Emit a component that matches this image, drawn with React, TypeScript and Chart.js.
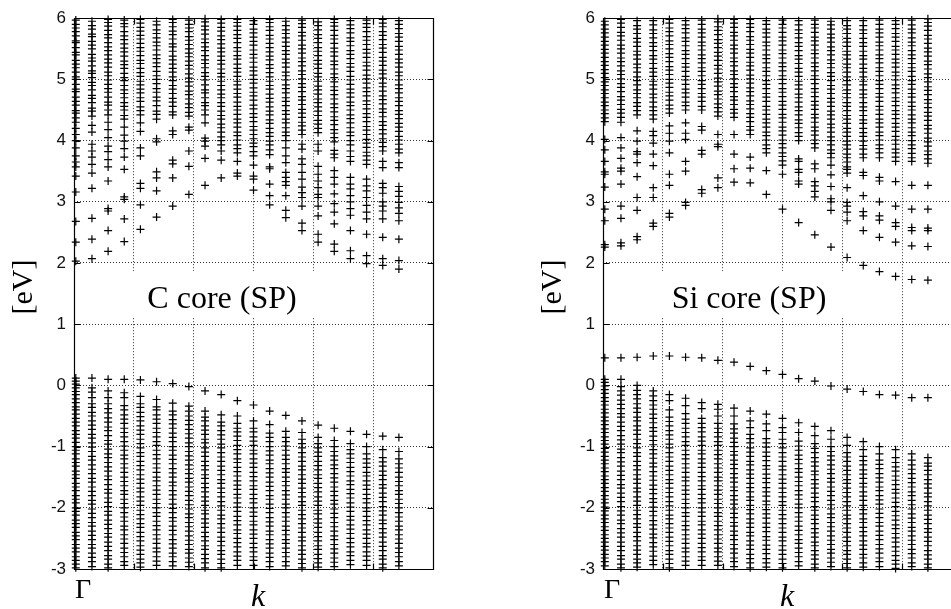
import React, { useEffect, useRef } from "react";
import { Chart, registerables } from "chart.js";
Chart.register(...registerables);

// k positions of the 21 columns (axis units, 0..6)
const kPoints = [0.03, 0.3, 0.57, 0.84, 1.11, 1.38, 1.65, 1.92, 2.19, 2.46, 2.73, 3.0, 3.27, 3.54, 3.81, 4.08, 4.35, 4.62, 4.89, 5.16, 5.43];
const xTicks = [0, 1, 2, 3, 4, 5, 6];
const yTicks = [-3, -2, -1, 0, 1, 2, 3, 4, 5, 6];

// C core (SP): conduction-side energies per k column [eV]
const cCoreUpper: number[][] = [
  [2.03, 2.34, 2.68, 3.16, 3.42, 3.57, 3.65, 3.75, 3.88, 4.0, 4.1, 4.2, 4.3, 4.37, 4.45, 4.49, 4.58, 4.64, 4.71, 4.8, 4.84, 4.92, 5.0, 5.04, 5.12, 5.19, 5.25, 5.31, 5.4, 5.44, 5.52, 5.6, 5.63, 5.71, 5.78, 5.84, 5.9, 5.97],
  [2.07, 2.39, 2.73, 3.22, 3.47, 3.61, 3.73, 3.83, 3.94, 4.14, 4.25, 4.4, 4.48, 4.53, 4.62, 4.69, 4.74, 4.83, 4.9, 4.95, 5.03, 5.1, 5.14, 5.22, 5.3, 5.35, 5.41, 5.5, 5.56, 5.62, 5.7, 5.74, 5.82, 5.88, 5.95],
  [2.19, 2.53, 2.85, 2.89, 3.34, 3.57, 3.69, 3.82, 3.91, 4.05, 4.18, 4.3, 4.42, 4.5, 4.58, 4.63, 4.71, 4.79, 4.85, 4.92, 4.99, 5.06, 5.12, 5.2, 5.27, 5.33, 5.4, 5.47, 5.53, 5.6, 5.68, 5.73, 5.8, 5.87, 5.93, 5.98],
  [2.35, 2.72, 3.04, 3.08, 3.53, 3.73, 3.87, 3.99, 4.09, 4.22, 4.35, 4.41, 4.5, 4.56, 4.62, 4.7, 4.77, 4.83, 4.9, 4.98, 5.03, 5.1, 5.18, 5.24, 5.3, 5.38, 5.45, 5.51, 5.58, 5.65, 5.71, 5.78, 5.86, 5.91, 5.97],
  [2.55, 2.95, 3.22, 3.3, 3.75, 3.88, 4.15, 4.29, 4.42, 4.49, 4.55, 4.64, 4.7, 4.78, 4.84, 4.91, 4.97, 5.05, 5.11, 5.18, 5.26, 5.31, 5.39, 5.46, 5.52, 5.59, 5.66, 5.72, 5.79, 5.85, 5.92, 5.98],
  [2.75, 3.18, 3.39, 3.49, 3.98, 4.03, 4.35, 4.43, 4.48, 4.57, 4.65, 4.71, 4.79, 4.85, 4.93, 5.0, 5.06, 5.13, 5.21, 5.27, 5.34, 5.4, 5.48, 5.55, 5.61, 5.68, 5.75, 5.81, 5.89, 5.95],
  [2.93, 3.39, 3.62, 3.68, 4.1, 4.16, 4.42, 4.47, 4.56, 4.63, 4.69, 4.77, 4.84, 4.9, 4.98, 5.04, 5.12, 5.18, 5.25, 5.32, 5.38, 5.46, 5.53, 5.58, 5.66, 5.73, 5.79, 5.86, 5.93, 5.98],
  [3.12, 3.58, 3.83, 4.17, 4.22, 4.4, 4.46, 4.54, 4.6, 4.68, 4.75, 4.81, 4.89, 4.96, 5.02, 5.09, 5.17, 5.23, 5.3, 5.37, 5.43, 5.5, 5.57, 5.64, 5.7, 5.78, 5.84, 5.9, 5.97],
  [3.27, 3.71, 3.91, 3.99, 4.04, 4.29, 4.42, 4.5, 4.57, 4.62, 4.7, 4.78, 4.83, 4.91, 4.99, 5.05, 5.11, 5.19, 5.26, 5.32, 5.39, 5.47, 5.53, 5.6, 5.66, 5.74, 5.81, 5.87, 5.94, 5.99],
  [3.39, 3.68, 3.83, 3.93, 4.0, 4.06, 4.14, 4.21, 4.27, 4.35, 4.41, 4.48, 4.56, 4.62, 4.7, 4.76, 4.83, 4.9, 4.97, 5.04, 5.1, 5.17, 5.25, 5.31, 5.38, 5.45, 5.51, 5.58, 5.65, 5.71, 5.79, 5.85, 5.92, 5.98],
  [3.42, 3.47, 3.66, 3.8, 3.87, 3.93, 4.01, 4.08, 4.14, 4.22, 4.29, 4.35, 4.43, 4.5, 4.56, 4.63, 4.71, 4.77, 4.84, 4.91, 4.97, 5.05, 5.12, 5.18, 5.25, 5.33, 5.39, 5.46, 5.52, 5.6, 5.67, 5.73, 5.8, 5.87, 5.93, 5.98],
  [3.19, 3.37, 3.42, 3.6, 3.75, 3.82, 3.9, 3.96, 4.03, 4.1, 4.17, 4.23, 4.31, 4.38, 4.44, 4.52, 4.58, 4.66, 4.73, 4.79, 4.86, 4.94, 5.0, 5.07, 5.14, 5.2, 5.28, 5.35, 5.41, 5.48, 5.56, 5.62, 5.69, 5.76, 5.82, 5.9, 5.96],
  [2.95, 3.1, 3.29, 3.54, 3.57, 3.77, 3.85, 3.93, 3.99, 4.07, 4.13, 4.2, 4.28, 4.34, 4.42, 4.48, 4.55, 4.63, 4.69, 4.76, 4.84, 4.9, 4.97, 5.04, 5.11, 5.18, 5.24, 5.32, 5.38, 5.45, 5.52, 5.59, 5.66, 5.72, 5.8, 5.86, 5.93, 5.98],
  [2.74, 2.86, 3.1, 3.27, 3.33, 3.4, 3.48, 3.64, 3.75, 3.88, 4.0, 4.08, 4.14, 4.21, 4.29, 4.35, 4.43, 4.49, 4.57, 4.64, 4.7, 4.78, 4.85, 4.91, 4.99, 5.06, 5.12, 5.2, 5.27, 5.33, 5.41, 5.47, 5.54, 5.61, 5.68, 5.75, 5.81, 5.88, 5.95],
  [2.53, 2.65, 2.93, 3.07, 3.15, 3.24, 3.37, 3.48, 3.61, 3.7, 3.86, 3.94, 4.1, 4.17, 4.24, 4.3, 4.38, 4.45, 4.51, 4.59, 4.66, 4.72, 4.8, 4.87, 4.93, 5.01, 5.08, 5.14, 5.22, 5.29, 5.35, 5.43, 5.5, 5.56, 5.64, 5.71, 5.77, 5.85, 5.91, 5.97],
  [2.34, 2.47, 2.77, 2.93, 3.07, 3.12, 3.23, 3.34, 3.45, 3.58, 3.83, 3.94, 4.13, 4.2, 4.27, 4.33, 4.41, 4.48, 4.55, 4.62, 4.68, 4.76, 4.83, 4.89, 4.97, 5.04, 5.1, 5.18, 5.25, 5.31, 5.39, 5.46, 5.52, 5.6, 5.67, 5.73, 5.81, 5.88, 5.94],
  [2.19, 2.31, 2.64, 2.83, 2.97, 3.13, 3.29, 3.4, 3.51, 3.72, 3.78, 3.84, 3.98, 4.05, 4.12, 4.18, 4.26, 4.33, 4.39, 4.47, 4.54, 4.6, 4.68, 4.75, 4.82, 4.88, 4.96, 5.03, 5.09, 5.17, 5.24, 5.3, 5.38, 5.45, 5.51, 5.59, 5.66, 5.72, 5.8, 5.87, 5.93, 5.98],
  [2.07, 2.2, 2.53, 2.78, 2.89, 3.0, 3.1, 3.21, 3.29, 3.4, 3.66, 3.74, 3.83, 3.93, 4.0, 4.08, 4.14, 4.21, 4.29, 4.36, 4.42, 4.5, 4.57, 4.63, 4.71, 4.78, 4.84, 4.92, 4.99, 5.05, 5.13, 5.2, 5.26, 5.34, 5.41, 5.47, 5.55, 5.62, 5.68, 5.76, 5.83, 5.89, 5.96],
  [1.99, 2.12, 2.47, 2.72, 2.83, 2.94, 3.07, 3.18, 3.26, 3.37, 3.61, 3.68, 3.75, 3.81, 3.89, 3.96, 4.02, 4.1, 4.17, 4.23, 4.31, 4.38, 4.44, 4.52, 4.59, 4.65, 4.73, 4.8, 4.86, 4.94, 5.01, 5.07, 5.15, 5.22, 5.28, 5.36, 5.43, 5.49, 5.57, 5.64, 5.7, 5.78, 5.85, 5.91, 5.97],
  [1.96, 2.07, 2.42, 2.72, 2.85, 2.93, 3.0, 3.14, 3.23, 3.3, 3.56, 3.66, 3.83, 3.9, 3.97, 4.03, 4.11, 4.18, 4.25, 4.31, 4.39, 4.46, 4.52, 4.6, 4.67, 4.73, 4.81, 4.88, 4.94, 5.02, 5.09, 5.15, 5.23, 5.3, 5.36, 5.44, 5.51, 5.57, 5.65, 5.72, 5.78, 5.86, 5.92, 5.98],
  [1.9, 2.04, 2.39, 2.69, 2.81, 2.9, 2.99, 3.09, 3.17, 3.25, 3.56, 3.64, 3.8, 3.86, 3.94, 4.01, 4.07, 4.15, 4.22, 4.28, 4.36, 4.43, 4.49, 4.57, 4.64, 4.7, 4.78, 4.85, 4.91, 4.99, 5.06, 5.12, 5.2, 5.27, 5.33, 5.41, 5.48, 5.54, 5.62, 5.69, 5.75, 5.83, 5.9, 5.96],
];

// C core (SP): valence-side energies per k column [eV]
const cCoreLower: number[][] = [
  [0.12, 0.07, 0.02, -0.04, -0.1, -0.15, -0.22, -0.28, -0.35, -0.4, -0.47, -0.54, -0.6, -0.66, -0.74, -0.8, -0.86, -0.93, -1.0, -1.06, -1.12, -1.2, -1.26, -1.32, -1.4, -1.46, -1.52, -1.6, -1.66, -1.72, -1.8, -1.86, -1.92, -2.0, -2.06, -2.12, -2.2, -2.26, -2.32, -2.4, -2.46, -2.52, -2.6, -2.66, -2.72, -2.8, -2.86, -2.92, -2.98],
  [0.12, -0.04, -0.11, -0.2, -0.3, -0.36, -0.44, -0.5, -0.58, -0.65, -0.72, -0.8, -0.86, -0.94, -1.01, -1.08, -1.16, -1.22, -1.3, -1.37, -1.44, -1.52, -1.58, -1.66, -1.73, -1.8, -1.88, -1.94, -2.02, -2.09, -2.16, -2.24, -2.3, -2.38, -2.45, -2.52, -2.6, -2.66, -2.74, -2.81, -2.88, -2.96],
  [0.1, -0.09, -0.2, -0.3, -0.38, -0.45, -0.53, -0.6, -0.68, -0.74, -0.82, -0.9, -0.96, -1.04, -1.12, -1.18, -1.26, -1.33, -1.4, -1.48, -1.54, -1.62, -1.7, -1.76, -1.84, -1.91, -1.98, -2.06, -2.12, -2.2, -2.27, -2.34, -2.42, -2.48, -2.56, -2.63, -2.7, -2.78, -2.84, -2.92, -2.98],
  [0.1, -0.12, -0.2, -0.33, -0.4, -0.48, -0.55, -0.62, -0.7, -0.77, -0.84, -0.92, -0.99, -1.06, -1.14, -1.2, -1.28, -1.35, -1.42, -1.5, -1.57, -1.64, -1.72, -1.78, -1.86, -1.93, -2.0, -2.08, -2.15, -2.22, -2.3, -2.36, -2.44, -2.51, -2.58, -2.66, -2.73, -2.8, -2.88, -2.94],
  [0.09, -0.18, -0.3, -0.36, -0.44, -0.51, -0.58, -0.66, -0.73, -0.8, -0.88, -0.95, -1.02, -1.1, -1.16, -1.24, -1.31, -1.38, -1.46, -1.53, -1.6, -1.68, -1.74, -1.82, -1.89, -1.96, -2.04, -2.11, -2.18, -2.26, -2.32, -2.4, -2.47, -2.54, -2.62, -2.69, -2.76, -2.84, -2.9, -2.97],
  [0.06, -0.23, -0.35, -0.4, -0.48, -0.55, -0.62, -0.7, -0.77, -0.84, -0.92, -0.98, -1.06, -1.13, -1.2, -1.28, -1.35, -1.42, -1.5, -1.56, -1.64, -1.71, -1.78, -1.86, -1.93, -2.0, -2.08, -2.14, -2.22, -2.29, -2.36, -2.44, -2.51, -2.58, -2.66, -2.72, -2.8, -2.87, -2.94],
  [0.03, -0.29, -0.42, -0.48, -0.56, -0.63, -0.7, -0.78, -0.85, -0.92, -1.0, -1.06, -1.14, -1.21, -1.28, -1.36, -1.43, -1.5, -1.58, -1.64, -1.72, -1.79, -1.86, -1.94, -2.01, -2.08, -2.16, -2.22, -2.3, -2.37, -2.44, -2.52, -2.59, -2.66, -2.74, -2.8, -2.88, -2.95],
  [-0.02, -0.34, -0.42, -0.5, -0.57, -0.64, -0.72, -0.79, -0.86, -0.94, -1.0, -1.08, -1.15, -1.22, -1.3, -1.37, -1.44, -1.52, -1.58, -1.66, -1.73, -1.8, -1.88, -1.95, -2.02, -2.1, -2.16, -2.24, -2.31, -2.38, -2.46, -2.53, -2.6, -2.68, -2.74, -2.82, -2.89, -2.96],
  [-0.09, -0.42, -0.52, -0.58, -0.66, -0.73, -0.8, -0.88, -0.94, -1.02, -1.09, -1.16, -1.24, -1.31, -1.38, -1.46, -1.52, -1.6, -1.67, -1.74, -1.82, -1.89, -1.96, -2.04, -2.1, -2.18, -2.25, -2.32, -2.4, -2.47, -2.54, -2.62, -2.68, -2.76, -2.83, -2.9, -2.98],
  [-0.15, -0.48, -0.6, -0.66, -0.74, -0.81, -0.88, -0.96, -1.02, -1.1, -1.17, -1.24, -1.32, -1.39, -1.46, -1.54, -1.6, -1.68, -1.75, -1.82, -1.9, -1.97, -2.04, -2.12, -2.18, -2.26, -2.33, -2.4, -2.48, -2.55, -2.62, -2.7, -2.76, -2.84, -2.91, -2.98],
  [-0.25, -0.5, -0.62, -0.7, -0.76, -0.83, -0.9, -0.98, -1.05, -1.12, -1.2, -1.26, -1.34, -1.41, -1.48, -1.56, -1.63, -1.7, -1.78, -1.84, -1.92, -1.99, -2.06, -2.14, -2.21, -2.28, -2.36, -2.42, -2.5, -2.57, -2.64, -2.72, -2.79, -2.86, -2.94],
  [-0.32, -0.58, -0.7, -0.76, -0.84, -0.91, -0.98, -1.06, -1.12, -1.2, -1.27, -1.34, -1.42, -1.49, -1.56, -1.64, -1.7, -1.78, -1.85, -1.92, -2.0, -2.07, -2.14, -2.22, -2.28, -2.36, -2.43, -2.5, -2.58, -2.65, -2.72, -2.8, -2.86, -2.94],
  [-0.42, -0.64, -0.78, -0.85, -0.92, -1.0, -1.07, -1.14, -1.22, -1.28, -1.36, -1.43, -1.5, -1.58, -1.65, -1.72, -1.8, -1.86, -1.94, -2.01, -2.08, -2.16, -2.23, -2.3, -2.38, -2.44, -2.52, -2.59, -2.66, -2.74, -2.81, -2.88, -2.96],
  [-0.49, -0.75, -0.85, -0.92, -0.99, -1.06, -1.14, -1.21, -1.28, -1.36, -1.42, -1.5, -1.57, -1.64, -1.72, -1.79, -1.86, -1.94, -2.0, -2.08, -2.15, -2.22, -2.3, -2.37, -2.44, -2.52, -2.58, -2.66, -2.73, -2.8, -2.88, -2.95],
  [-0.58, -0.77, -0.88, -0.95, -1.02, -1.1, -1.17, -1.24, -1.32, -1.38, -1.46, -1.53, -1.6, -1.68, -1.75, -1.82, -1.9, -1.96, -2.04, -2.11, -2.18, -2.26, -2.33, -2.4, -2.48, -2.54, -2.62, -2.69, -2.76, -2.84, -2.91, -2.98],
  [-0.65, -0.85, -0.95, -1.02, -1.09, -1.16, -1.24, -1.31, -1.38, -1.46, -1.52, -1.6, -1.67, -1.74, -1.82, -1.89, -1.96, -2.04, -2.1, -2.18, -2.25, -2.32, -2.4, -2.47, -2.54, -2.62, -2.68, -2.76, -2.83, -2.9, -2.97],
  [-0.7, -0.9, -1.0, -1.08, -1.15, -1.22, -1.3, -1.36, -1.44, -1.51, -1.58, -1.66, -1.73, -1.8, -1.88, -1.94, -2.02, -2.09, -2.16, -2.24, -2.31, -2.38, -2.46, -2.52, -2.6, -2.67, -2.74, -2.82, -2.89, -2.96],
  [-0.75, -0.95, -1.05, -1.12, -1.19, -1.26, -1.34, -1.41, -1.48, -1.56, -1.62, -1.7, -1.77, -1.84, -1.92, -1.99, -2.06, -2.14, -2.2, -2.28, -2.35, -2.42, -2.5, -2.57, -2.64, -2.72, -2.78, -2.86, -2.93],
  [-0.8, -1.0, -1.12, -1.2, -1.27, -1.34, -1.42, -1.48, -1.56, -1.63, -1.7, -1.78, -1.85, -1.92, -2.0, -2.06, -2.14, -2.21, -2.28, -2.36, -2.43, -2.5, -2.58, -2.64, -2.72, -2.79, -2.86, -2.94],
  [-0.83, -1.05, -1.18, -1.25, -1.32, -1.4, -1.47, -1.54, -1.62, -1.68, -1.76, -1.83, -1.9, -1.98, -2.05, -2.12, -2.2, -2.26, -2.34, -2.41, -2.48, -2.56, -2.63, -2.7, -2.78, -2.84, -2.92, -2.98],
  [-0.85, -1.08, -1.2, -1.28, -1.35, -1.42, -1.5, -1.57, -1.64, -1.72, -1.78, -1.86, -1.93, -2.0, -2.08, -2.15, -2.22, -2.3, -2.36, -2.44, -2.51, -2.58, -2.66, -2.73, -2.8, -2.88, -2.95],
];

// Si core (SP): conduction-side energies per k column [eV]
const siCoreUpper: number[][] = [
  [2.26, 2.3, 2.69, 2.88, 3.24, 3.45, 3.49, 3.66, 3.85, 4.02, 4.31, 4.37, 4.44, 4.5, 4.57, 4.63, 4.7, 4.77, 4.83, 4.9, 4.96, 5.03, 5.1, 5.16, 5.23, 5.29, 5.36, 5.43, 5.49, 5.56, 5.62, 5.69, 5.76, 5.82, 5.89, 5.95],
  [2.28, 2.33, 2.73, 2.93, 3.29, 3.5, 3.55, 3.71, 3.88, 4.05, 4.3, 4.38, 4.45, 4.51, 4.59, 4.66, 4.72, 4.8, 4.87, 4.93, 5.01, 5.08, 5.14, 5.22, 5.29, 5.35, 5.43, 5.5, 5.56, 5.64, 5.71, 5.77, 5.85, 5.92, 5.98],
  [2.38, 2.43, 2.86, 3.07, 3.41, 3.64, 3.78, 3.82, 3.99, 4.16, 4.42, 4.49, 4.56, 4.62, 4.7, 4.77, 4.83, 4.91, 4.98, 5.04, 5.12, 5.19, 5.25, 5.33, 5.4, 5.46, 5.54, 5.61, 5.67, 5.75, 5.82, 5.88, 5.96],
  [2.6, 2.65, 3.07, 3.23, 3.59, 3.78, 3.96, 4.08, 4.15, 4.35, 4.42, 4.49, 4.55, 4.63, 4.7, 4.76, 4.84, 4.91, 4.97, 5.05, 5.12, 5.18, 5.26, 5.33, 5.39, 5.47, 5.54, 5.6, 5.68, 5.75, 5.81, 5.89, 5.96],
  [2.75, 2.81, 3.27, 3.45, 3.8, 3.99, 4.12, 4.24, 4.45, 4.52, 4.58, 4.66, 4.73, 4.79, 4.87, 4.94, 5.0, 5.08, 5.15, 5.21, 5.29, 5.36, 5.42, 5.5, 5.57, 5.63, 5.71, 5.78, 5.84, 5.92, 5.98],
  [2.94, 2.99, 3.5, 3.66, 4.02, 4.12, 4.29, 4.5, 4.57, 4.63, 4.71, 4.78, 4.84, 4.92, 4.99, 5.05, 5.13, 5.2, 5.26, 5.34, 5.41, 5.47, 5.55, 5.62, 5.68, 5.76, 5.83, 5.89, 5.96],
  [3.14, 3.2, 3.78, 3.84, 4.17, 4.23, 4.5, 4.56, 4.64, 4.71, 4.77, 4.85, 4.92, 4.98, 5.06, 5.13, 5.19, 5.27, 5.34, 5.4, 5.48, 5.55, 5.61, 5.69, 5.76, 5.82, 5.9, 5.97],
  [3.23, 3.39, 3.9, 3.94, 4.1, 4.4, 4.47, 4.54, 4.6, 4.68, 4.75, 4.81, 4.89, 4.96, 5.02, 5.1, 5.17, 5.23, 5.31, 5.38, 5.44, 5.52, 5.59, 5.65, 5.73, 5.8, 5.86, 5.94, 5.99],
  [3.32, 3.54, 3.78, 4.1, 4.38, 4.45, 4.51, 4.59, 4.66, 4.72, 4.8, 4.87, 4.93, 5.01, 5.08, 5.14, 5.22, 5.29, 5.35, 5.43, 5.5, 5.56, 5.64, 5.71, 5.77, 5.85, 5.92, 5.98],
  [3.31, 3.55, 3.73, 4.1, 4.17, 4.23, 4.31, 4.38, 4.44, 4.52, 4.59, 4.65, 4.73, 4.8, 4.86, 4.94, 5.01, 5.07, 5.15, 5.22, 5.28, 5.36, 5.43, 5.49, 5.57, 5.64, 5.7, 5.78, 5.85, 5.91, 5.98],
  [3.12, 3.51, 3.8, 3.87, 3.93, 4.01, 4.08, 4.14, 4.22, 4.29, 4.35, 4.43, 4.5, 4.56, 4.64, 4.71, 4.77, 4.85, 4.92, 4.98, 5.06, 5.13, 5.19, 5.27, 5.34, 5.4, 5.48, 5.55, 5.61, 5.69, 5.76, 5.82, 5.9, 5.96],
  [2.88, 3.45, 3.6, 3.67, 3.74, 3.8, 3.88, 3.95, 4.01, 4.09, 4.16, 4.22, 4.3, 4.37, 4.43, 4.51, 4.58, 4.64, 4.72, 4.79, 4.85, 4.93, 5.0, 5.06, 5.14, 5.21, 5.27, 5.35, 5.42, 5.48, 5.56, 5.63, 5.69, 5.77, 5.84, 5.9, 5.97],
  [2.66, 3.29, 3.34, 3.48, 3.53, 3.66, 3.7, 4.0, 4.07, 4.13, 4.21, 4.28, 4.34, 4.42, 4.49, 4.55, 4.63, 4.7, 4.76, 4.84, 4.91, 4.97, 5.05, 5.12, 5.18, 5.26, 5.33, 5.39, 5.47, 5.54, 5.6, 5.68, 5.75, 5.81, 5.89, 5.96],
  [2.46, 3.08, 3.17, 3.26, 3.33, 3.54, 3.62, 3.88, 3.95, 4.01, 4.09, 4.16, 4.22, 4.3, 4.37, 4.43, 4.51, 4.58, 4.64, 4.72, 4.79, 4.85, 4.93, 5.0, 5.06, 5.14, 5.21, 5.27, 5.35, 5.42, 5.48, 5.56, 5.63, 5.69, 5.77, 5.84, 5.9, 5.97],
  [2.26, 2.86, 3.0, 3.05, 3.25, 3.44, 3.6, 3.72, 3.79, 3.85, 3.93, 4.0, 4.06, 4.14, 4.21, 4.27, 4.35, 4.42, 4.48, 4.56, 4.63, 4.69, 4.77, 4.84, 4.9, 4.98, 5.05, 5.11, 5.19, 5.26, 5.32, 5.4, 5.47, 5.53, 5.61, 5.68, 5.74, 5.82, 5.89, 5.95],
  [2.09, 2.69, 2.83, 2.93, 2.99, 3.23, 3.47, 3.53, 3.57, 3.65, 3.72, 3.78, 3.86, 3.93, 3.99, 4.07, 4.14, 4.2, 4.28, 4.35, 4.41, 4.49, 4.56, 4.62, 4.7, 4.77, 4.83, 4.91, 4.98, 5.04, 5.12, 5.19, 5.25, 5.33, 5.4, 5.46, 5.54, 5.61, 5.67, 5.75, 5.82, 5.88, 5.96],
  [1.96, 2.53, 2.77, 2.84, 3.1, 3.43, 3.48, 3.72, 3.78, 3.86, 3.92, 3.99, 4.07, 4.13, 4.2, 4.28, 4.34, 4.41, 4.49, 4.55, 4.62, 4.7, 4.76, 4.83, 4.91, 4.97, 5.04, 5.12, 5.18, 5.25, 5.33, 5.39, 5.46, 5.54, 5.6, 5.67, 5.75, 5.81, 5.88, 5.96],
  [1.86, 2.42, 2.7, 2.77, 3.0, 3.34, 3.4, 3.72, 3.8, 3.87, 3.93, 4.01, 4.08, 4.14, 4.22, 4.29, 4.35, 4.43, 4.5, 4.56, 4.64, 4.71, 4.77, 4.85, 4.92, 4.98, 5.06, 5.13, 5.19, 5.27, 5.34, 5.4, 5.48, 5.55, 5.61, 5.69, 5.76, 5.82, 5.9, 5.97],
  [1.78, 2.34, 2.6, 2.66, 2.93, 3.33, 3.66, 3.73, 3.8, 3.86, 3.94, 4.01, 4.07, 4.15, 4.22, 4.28, 4.36, 4.43, 4.49, 4.57, 4.64, 4.7, 4.78, 4.85, 4.91, 4.99, 5.06, 5.12, 5.2, 5.27, 5.33, 5.41, 5.48, 5.54, 5.62, 5.69, 5.75, 5.83, 5.9, 5.96],
  [1.73, 2.28, 2.53, 2.58, 2.88, 3.27, 3.66, 3.72, 3.79, 3.87, 3.93, 4.0, 4.08, 4.14, 4.21, 4.29, 4.35, 4.42, 4.5, 4.56, 4.63, 4.71, 4.77, 4.84, 4.92, 4.98, 5.05, 5.13, 5.19, 5.26, 5.34, 5.4, 5.47, 5.55, 5.61, 5.68, 5.76, 5.82, 5.89, 5.97],
  [1.72, 2.27, 2.53, 2.57, 2.88, 3.27, 3.63, 3.7, 3.77, 3.83, 3.91, 3.98, 4.04, 4.12, 4.19, 4.25, 4.33, 4.4, 4.46, 4.54, 4.61, 4.67, 4.75, 4.82, 4.88, 4.96, 5.03, 5.09, 5.17, 5.24, 5.3, 5.38, 5.45, 5.51, 5.59, 5.66, 5.72, 5.8, 5.87, 5.93, 5.99],
];

// Si core (SP): valence-side energies per k column [eV]
const siCoreLower: number[][] = [
  [0.45, 0.1, 0.05, -0.01, -0.07, -0.13, -0.2, -0.26, -0.32, -0.39, -0.45, -0.52, -0.58, -0.64, -0.71, -0.77, -0.84, -0.9, -0.96, -1.03, -1.09, -1.16, -1.22, -1.28, -1.35, -1.41, -1.48, -1.54, -1.6, -1.67, -1.73, -1.8, -1.86, -1.92, -1.99, -2.05, -2.12, -2.18, -2.24, -2.31, -2.37, -2.44, -2.5, -2.56, -2.63, -2.69, -2.76, -2.82, -2.88, -2.95],
  [0.45, 0.1, -0.02, -0.09, -0.16, -0.24, -0.31, -0.38, -0.46, -0.52, -0.6, -0.67, -0.74, -0.82, -0.89, -0.96, -1.04, -1.1, -1.18, -1.25, -1.32, -1.4, -1.47, -1.54, -1.62, -1.68, -1.76, -1.83, -1.9, -1.98, -2.05, -2.12, -2.2, -2.26, -2.34, -2.41, -2.48, -2.56, -2.63, -2.7, -2.78, -2.84, -2.92, -2.98],
  [0.46, 0.0, -0.08, -0.15, -0.22, -0.3, -0.37, -0.44, -0.52, -0.58, -0.66, -0.73, -0.8, -0.88, -0.95, -1.02, -1.1, -1.16, -1.24, -1.31, -1.38, -1.46, -1.53, -1.6, -1.68, -1.74, -1.82, -1.89, -1.96, -2.04, -2.11, -2.18, -2.26, -2.32, -2.4, -2.47, -2.54, -2.62, -2.69, -2.76, -2.84, -2.9, -2.97],
  [0.48, -0.09, -0.17, -0.25, -0.32, -0.39, -0.47, -0.54, -0.61, -0.69, -0.75, -0.83, -0.9, -0.97, -1.05, -1.12, -1.19, -1.27, -1.33, -1.41, -1.48, -1.55, -1.63, -1.7, -1.77, -1.85, -1.91, -1.99, -2.06, -2.13, -2.21, -2.28, -2.35, -2.43, -2.49, -2.57, -2.64, -2.71, -2.79, -2.86, -2.93],
  [0.48, -0.15, -0.25, -0.4, -0.52, -0.59, -0.66, -0.74, -0.81, -0.88, -0.96, -1.02, -1.1, -1.17, -1.24, -1.32, -1.39, -1.46, -1.54, -1.6, -1.68, -1.75, -1.82, -1.9, -1.97, -2.04, -2.12, -2.18, -2.26, -2.33, -2.4, -2.48, -2.55, -2.62, -2.7, -2.76, -2.84, -2.91, -2.98],
  [0.46, -0.21, -0.33, -0.46, -0.55, -0.62, -0.7, -0.77, -0.84, -0.92, -0.98, -1.06, -1.13, -1.2, -1.28, -1.35, -1.42, -1.5, -1.56, -1.64, -1.71, -1.78, -1.86, -1.93, -2.0, -2.08, -2.14, -2.22, -2.29, -2.36, -2.44, -2.51, -2.58, -2.66, -2.72, -2.8, -2.87, -2.94],
  [0.45, -0.28, -0.38, -0.54, -0.62, -0.69, -0.76, -0.84, -0.91, -0.98, -1.06, -1.12, -1.2, -1.27, -1.34, -1.42, -1.49, -1.56, -1.64, -1.7, -1.78, -1.85, -1.92, -2.0, -2.07, -2.14, -2.22, -2.28, -2.36, -2.43, -2.5, -2.58, -2.65, -2.72, -2.8, -2.86, -2.94],
  [0.41, -0.31, -0.39, -0.5, -0.62, -0.7, -0.77, -0.84, -0.92, -0.98, -1.06, -1.13, -1.2, -1.28, -1.35, -1.42, -1.5, -1.56, -1.64, -1.71, -1.78, -1.86, -1.93, -2.0, -2.08, -2.14, -2.22, -2.29, -2.36, -2.44, -2.51, -2.58, -2.66, -2.72, -2.8, -2.87, -2.94],
  [0.38, -0.37, -0.5, -0.63, -0.71, -0.78, -0.86, -0.93, -1.0, -1.08, -1.14, -1.22, -1.29, -1.36, -1.44, -1.51, -1.58, -1.66, -1.72, -1.8, -1.87, -1.94, -2.02, -2.09, -2.16, -2.24, -2.3, -2.38, -2.45, -2.52, -2.6, -2.67, -2.74, -2.82, -2.88, -2.96],
  [0.31, -0.42, -0.58, -0.69, -0.8, -0.87, -0.94, -1.02, -1.09, -1.16, -1.24, -1.3, -1.38, -1.45, -1.52, -1.6, -1.67, -1.74, -1.82, -1.88, -1.96, -2.03, -2.1, -2.18, -2.25, -2.32, -2.4, -2.46, -2.54, -2.61, -2.68, -2.76, -2.83, -2.9, -2.98],
  [0.24, -0.47, -0.63, -0.74, -0.87, -0.94, -1.01, -1.09, -1.16, -1.23, -1.31, -1.37, -1.45, -1.52, -1.59, -1.67, -1.74, -1.81, -1.89, -1.95, -2.03, -2.1, -2.17, -2.25, -2.32, -2.39, -2.47, -2.53, -2.61, -2.68, -2.75, -2.83, -2.9, -2.97],
  [0.18, -0.54, -0.69, -0.77, -0.88, -0.95, -1.02, -1.1, -1.17, -1.24, -1.32, -1.38, -1.46, -1.53, -1.6, -1.68, -1.75, -1.82, -1.9, -1.96, -2.04, -2.11, -2.18, -2.26, -2.33, -2.4, -2.48, -2.54, -2.62, -2.69, -2.76, -2.84, -2.91, -2.98],
  [0.11, -0.61, -0.77, -0.91, -0.99, -1.06, -1.14, -1.21, -1.28, -1.36, -1.42, -1.5, -1.57, -1.64, -1.72, -1.79, -1.86, -1.94, -2.0, -2.08, -2.15, -2.22, -2.3, -2.37, -2.44, -2.52, -2.58, -2.66, -2.73, -2.8, -2.88, -2.95],
  [0.07, -0.67, -0.82, -0.95, -1.03, -1.1, -1.18, -1.25, -1.32, -1.4, -1.46, -1.54, -1.61, -1.68, -1.76, -1.83, -1.9, -1.98, -2.04, -2.12, -2.19, -2.26, -2.34, -2.41, -2.48, -2.56, -2.62, -2.7, -2.77, -2.84, -2.92, -2.98],
  [-0.01, -0.74, -0.88, -1.0, -1.08, -1.15, -1.22, -1.3, -1.37, -1.44, -1.52, -1.58, -1.66, -1.73, -1.8, -1.88, -1.95, -2.02, -2.1, -2.16, -2.24, -2.31, -2.38, -2.46, -2.53, -2.6, -2.68, -2.74, -2.82, -2.89, -2.96],
  [-0.06, -0.85, -0.98, -1.1, -1.17, -1.24, -1.32, -1.39, -1.46, -1.54, -1.6, -1.68, -1.75, -1.82, -1.9, -1.97, -2.04, -2.12, -2.18, -2.26, -2.33, -2.4, -2.48, -2.55, -2.62, -2.7, -2.76, -2.84, -2.91, -2.98],
  [-0.1, -0.92, -1.05, -1.16, -1.23, -1.3, -1.38, -1.45, -1.52, -1.6, -1.66, -1.74, -1.81, -1.88, -1.96, -2.03, -2.1, -2.18, -2.24, -2.32, -2.39, -2.46, -2.54, -2.61, -2.68, -2.76, -2.82, -2.9, -2.97],
  [-0.15, -1.0, -1.12, -1.22, -1.29, -1.36, -1.44, -1.51, -1.58, -1.66, -1.72, -1.8, -1.87, -1.94, -2.02, -2.09, -2.16, -2.24, -2.3, -2.38, -2.45, -2.52, -2.6, -2.67, -2.74, -2.82, -2.88, -2.96],
  [-0.16, -1.05, -1.18, -1.26, -1.33, -1.4, -1.48, -1.55, -1.62, -1.7, -1.76, -1.84, -1.91, -1.98, -2.06, -2.13, -2.2, -2.28, -2.34, -2.42, -2.49, -2.56, -2.64, -2.71, -2.78, -2.86, -2.92, -2.99],
  [-0.2, -1.12, -1.22, -1.3, -1.37, -1.44, -1.52, -1.59, -1.66, -1.74, -1.8, -1.88, -1.95, -2.02, -2.1, -2.17, -2.24, -2.32, -2.38, -2.46, -2.53, -2.6, -2.68, -2.75, -2.82, -2.9, -2.96],
  [-0.2, -1.18, -1.27, -1.32, -1.39, -1.46, -1.54, -1.61, -1.68, -1.76, -1.82, -1.9, -1.97, -2.04, -2.12, -2.19, -2.26, -2.34, -2.4, -2.48, -2.55, -2.62, -2.7, -2.77, -2.84, -2.92, -2.98],
];

const SERIF = '"Liberation Serif", "Times New Roman", serif';
const SANS = '"Liberation Sans", Arial, sans-serif';

type PanelProps = {
  upper: number[][];
  lower: number[][];
  label: string;
  canvasWidth: number;
  yAxisWidth: number;
  padRight: number;
  labelX: number;
  eVX: number;
  kX: number;
  pageLeft: number;
};

function buildPoints(upper: number[][], lower: number[][]) {
  const pts: { x: number; y: number }[] = [];
  upper.forEach((col, i) => col.forEach((e) => pts.push({ x: kPoints[i], y: e })));
  lower.forEach((col, i) => col.forEach((e) => pts.push({ x: kPoints[i], y: e })));
  return pts;
}

function Panel(p: PanelProps) {
  const ref = useRef<HTMLCanvasElement | null>(null);
  useEffect(() => {
    if (!ref.current) return;
    const decor = {
      id: "decor",
      beforeDatasetsDraw(chart: any) {
        const ctx = chart.ctx as CanvasRenderingContext2D;
        ctx.save();
        ctx.font = `32px ${SERIF}`;
        const w = ctx.measureText(p.label).width;
        ctx.fillStyle = "#ffffff";
        ctx.fillRect(p.labelX - w / 2 - 25, 271, w + 50, 47);
        ctx.fillStyle = "#000";
        ctx.textAlign = "center";
        ctx.textBaseline = "alphabetic";
        ctx.fillText(p.label, p.labelX, 308);
        ctx.restore();
      },
      afterDraw(chart: any) {
        const ctx = chart.ctx as CanvasRenderingContext2D;
        const a = chart.chartArea;
        const xs = chart.scales.x;
        const ys = chart.scales.y;
        ctx.save();
        ctx.strokeStyle = "#000";
        ctx.lineWidth = 1.2;
        const L = Math.round(a.left) + 0.5;
        const R = Math.round(a.right) + 0.5;
        const T = Math.round(a.top) + 0.5;
        const B = Math.round(a.bottom) + 0.5;
        ctx.beginPath();
        ctx.rect(L, T, R - L, B - T);
        for (const v of yTicks) {
          const y = Math.round(ys.getPixelForValue(v)) + 0.5;
          ctx.moveTo(L, y);
          ctx.lineTo(L + 6, y);
          ctx.moveTo(R, y);
          ctx.lineTo(R - 6, y);
        }
        for (const v of xTicks) {
          const x = Math.round(xs.getPixelForValue(v)) + 0.5;
          ctx.moveTo(x, B);
          ctx.lineTo(x, B - 6);
          ctx.moveTo(x, T);
          ctx.lineTo(x, T + 6);
        }
        ctx.stroke();

        ctx.fillStyle = "#000";
        // [eV]
        ctx.save();
        ctx.translate(p.eVX, 287);
        ctx.rotate(-Math.PI / 2);
        ctx.font = `30px ${SERIF}`;
        ctx.textAlign = "center";
        ctx.textBaseline = "middle";
        ctx.fillText("[eV]", 0, 0);
        ctx.restore();
        // Gamma
        ctx.font = `28px ${SERIF}`;
        ctx.textAlign = "center";
        ctx.textBaseline = "alphabetic";
        ctx.fillText("Γ", a.left + 9, 598);
        // k
        ctx.font = `italic 32px ${SERIF}`;
        ctx.fillText("k", p.kX, 606);
        ctx.restore();
      },
    };
    const chart = new Chart(ref.current, {
      type: "scatter",
      data: {
        datasets: [
          {
            data: buildPoints(p.upper, p.lower),
            pointStyle: "cross",
            pointRadius: 4,
            pointHoverRadius: 4,
            pointBorderWidth: 1.2,
            pointBorderColor: "#000",
            pointBackgroundColor: "#000",
            borderColor: "#000",
            backgroundColor: "#000",
            clip: false,
          } as any,
        ],
      },
      options: {
        animation: false,
        responsive: false,
        devicePixelRatio: 1,
        events: [],
        layout: { padding: { left: 0, top: 15, right: p.padRight, bottom: 0 }, autoPadding: false } as any,
        plugins: { legend: { display: false }, tooltip: { enabled: false } },
        scales: {
          x: {
            type: "linear",
            min: 0,
            max: 6,
            ticks: { stepSize: 1, display: false },
            grid: { color: "#333", lineWidth: 1, drawTicks: false },
            border: { display: false, dash: [1, 2] },
            afterFit: (s: any) => {
              s.height = 40;
            },
          } as any,
          y: {
            type: "linear",
            min: -3,
            max: 6,
            ticks: { stepSize: 1, padding: 8, color: "#111", font: { family: SANS, size: 17 } },
            grid: { color: "#333", lineWidth: 1, drawTicks: false },
            border: { display: false, dash: [1, 2] },
            afterFit: (s: any) => {
              s.width = p.yAxisWidth;
            },
          } as any,
        },
      },
      plugins: [decor],
    });
    return () => chart.destroy();
  }, []);
  return (
    <canvas
      ref={ref}
      width={p.canvasWidth}
      height={609}
      style={{ position: "absolute", left: p.pageLeft, top: 0, width: p.canvasWidth, height: 609 }}
    />
  );
}

export default function App() {
  return (
    <div style={{ position: "fixed", left: 0, top: 0, width: 951, height: 609, overflow: "hidden", background: "#fff" }}>
      <Panel upper={cCoreUpper} lower={cCoreLower} label="C core (SP)" canvasWidth={480} yAxisWidth={74} padRight={47} labelX={222} eVX={24} kX={258} pageLeft={0} />
      <Panel upper={siCoreUpper} lower={siCoreLower} label="Si core (SP)" canvasWidth={500} yAxisWidth={123} padRight={18} labelX={269} eVX={73} kX={307} pageLeft={480} />
    </div>
  );
}
